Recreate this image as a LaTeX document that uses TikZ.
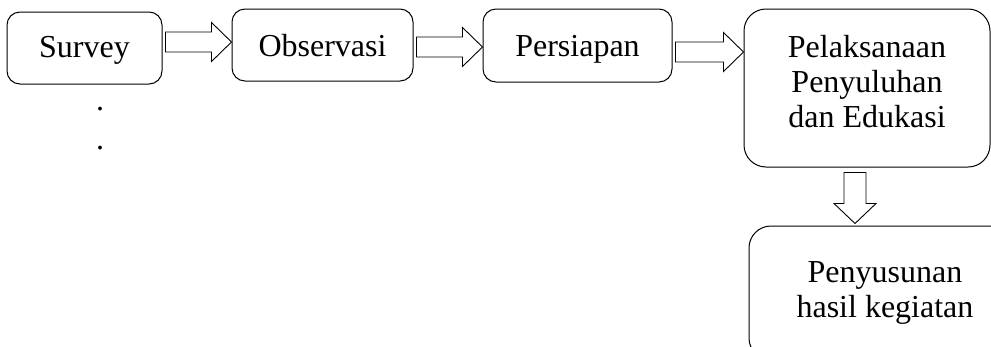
\documentclass[tikz,border=0pt]{standalone}
\usepackage{fontspec}
\setmainfont{Liberation Serif}
\usetikzlibrary{calc}

\tikzset{
  stepbox/.style={draw, line width=1pt, rounded corners=13pt, align=center,
    inner sep=0pt, font=\fontsize{32}{35}\selectfont},
  linebox/.style={stepbox, text height=22pt, text depth=0pt},
  bigbox/.style={stepbox, rounded corners=22pt},
  hollow/.style={draw, fill=white, line width=0.9pt, line join=miter}
}

\begin{document}
\begin{tikzpicture}[x=1pt, y=-1pt]
  \useasboundingbox (0,0) rectangle (991,346);
  \clip (0,0) rectangle (991,346);

  % Step boxes
  \node[linebox, text depth=4pt, minimum width=155pt, minimum height=72pt] (survey) at (84.5, 48) {Survey};
  \node[linebox, minimum width=181pt, minimum height=72pt] (obs) at (322.5, 45) {Observasi};
  \node[linebox, minimum width=189pt, minimum height=73pt] (prep) at (577.5, 45.5) {Persiapan};
  \node[bigbox, minimum width=246pt, minimum height=158pt, text depth=14pt] (exec) at (867, 88)
    {Pelaksanaan\\Penyuluhan\\dan Edukasi};
  \node[bigbox, minimum width=272pt, minimum height=134pt] (report) at (885, 293)
    {Penyusunan\\hasil kegiatan};

  % Dots under Survey
  \node[font=\fontsize{32}{35}\selectfont, inner sep=0pt, anchor=base] (dotA) at (100, 110) {.};
  \node[font=\fontsize{32}{35}\selectfont, inner sep=0pt, anchor=base] (dotB) at (100, 149) {.};

  % Hollow arrows to the right
  \foreach \a/\b/\h in {survey/obs/42, obs/prep/47, prep/exec/52} {
    \draw[hollow] let \p1=(\a.east), \p2=(\b.west) in
      ({\x1+3pt}, \h-10) -- ({\x2-20pt}, \h-10) -- ({\x2-20pt}, \h-19.5)
      -- (\x2, \h) -- ({\x2-20pt}, \h+19.5) -- ({\x2-20pt}, \h+10)
      -- ({\x1+3pt}, \h+10) -- cycle;
  }

  % Hollow arrow down
  \draw[hollow] let \p1=(exec.south), \p2=(report.north) in
    (844, {\y1-5pt}) -- (866, {\y1-5pt}) -- (866, {\y2+22pt}) -- (876, {\y2+22pt})
    -- (855, {\y2+2pt}) -- (834, {\y2+22pt}) -- (844, {\y2+22pt}) -- cycle;
\end{tikzpicture}
\end{document}
